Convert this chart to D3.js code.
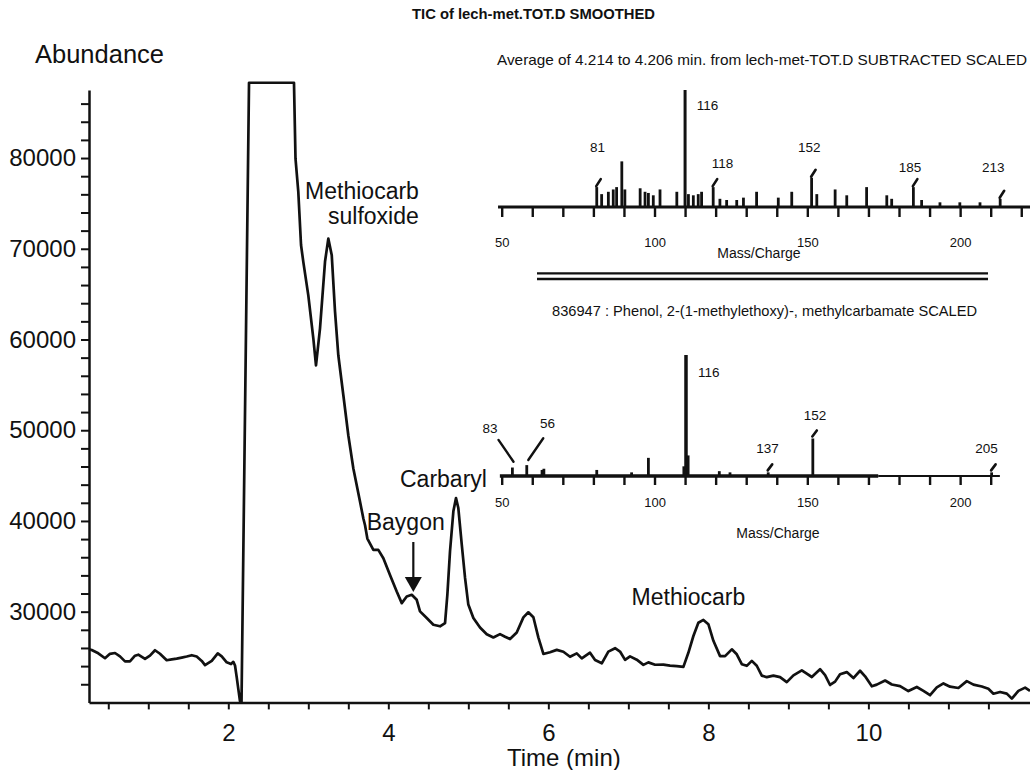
<!DOCTYPE html>
<html><head><meta charset="utf-8">
<script src="https://cdn.jsdelivr.net/npm/d3@7"></script>
<style>
body{margin:0;background:#fff;}
svg{display:block;font-family:"Liberation Sans",Arial,Helvetica,sans-serif;background:#fff;}
</style></head><body><svg id="c" width="1030" height="770"></svg>
<script>
// ---------- main chromatogram (TIC) ----------
const times = [0.26,0.293,0.375,0.459,0.521,0.584,0.646,0.709,0.771,0.834,
0.875,0.959,1.021,1.084,1.146,1.23,1.293,1.355,1.418,1.48,
1.543,1.605,1.668,1.709,1.793,1.868,1.918,1.98,2.034,2.063,
2.084,2.105,2.125,2.146,2.165,2.259,2.821,2.84,2.875,2.909,
2.938,3.0,3.063,3.096,3.146,3.209,3.25,3.293,3.334,3.375,
3.438,3.5,3.563,3.646,3.688,3.709,3.738,3.813,3.875,3.938,
4.021,4.105,4.168,4.23,4.293,4.355,4.396,4.48,4.563,4.646,
4.709,4.738,4.771,4.813,4.846,4.875,4.918,4.959,5.0,5.063,
5.146,5.23,5.313,5.396,5.459,5.521,5.605,5.688,5.75,5.813,
5.875,5.938,6.021,6.105,6.188,6.271,6.355,6.418,6.521,6.584,
6.668,6.75,6.834,6.896,6.959,7.021,7.105,7.188,7.25,7.334,
7.438,7.521,7.605,7.688,7.75,7.813,7.875,7.938,8.0,8.063,
8.146,8.209,8.293,8.355,8.418,8.48,8.543,8.605,8.668,8.73,
8.813,8.896,8.98,9.063,9.168,9.23,9.293,9.396,9.459,9.521,
9.584,9.646,9.73,9.813,9.896,9.959,10.043,10.105,10.209,10.293,
10.396,10.5,10.605,10.688,10.771,10.855,10.938,11.021,11.125,11.23,
11.313,11.418,11.5,11.563,11.646,11.73,11.793,11.875,11.959,12.02];
const abundance = [25850,25775,25410,24870,25355,25445,25070,24520,24530,25150,
25260,24790,25160,25750,25360,24650,24750,24830,24940,25060,
25200,25060,24570,24110,24580,25400,25080,24420,24230,24470,
24060,22780,21490,20150,20000,88300,88300,79930,76260,70410,
68530,64860,60090,57150,61200,68590,71120,69280,63080,58260,
53850,49450,45780,42140,40270,39530,38060,36810,36810,35890,
34050,32220,30940,31680,31860,31310,30030,29300,28560,28390,
28750,31870,36650,41060,42520,41420,37390,33720,30780,29310,
28250,27520,27160,27530,27240,26980,27710,29370,29930,29380,
27170,25340,25530,25790,25580,25030,25400,24850,25480,24670,
24310,25600,25970,25610,24690,25070,24710,24140,24410,24150,
24160,24060,23990,23920,25470,27320,28780,29090,28620,26790,
25100,25100,25850,25300,24210,24030,24580,24040,22950,22780,
22950,22780,22230,22980,23530,23160,22800,23660,23010,21920,
22290,23110,23340,22680,23490,22870,21770,21960,22410,21970,
21800,21250,21700,21270,20790,21650,22090,21730,21590,22340,
21960,21750,21500,20960,21150,20970,20420,21270,21630,21270];
const yTickLabels = [30000,40000,50000,60000,70000,80000];
const yMinorTicks = [22000,24000,26000,28000,30000,32000,34000,36000,38000,40000,42000,44000,46000,48000,50000,52000,54000,56000,58000,60000,62000,64000,66000,68000,70000,72000,74000,76000,78000,80000,82000,84000,86000];
const xTickLabels = [2,4,6,8,10];
const xMinorTicks = [0.5,1,1.5,2,2.5,3,3.5,4,4.5,5,5.5,6,6.5,7,7.5,8,8.5,9,9.5,10,10.5,11,11.5];

// peak annotations (text, time, abundance of text baseline)
const annoText = ["Methiocarb","sulfoxide","Carbaryl","Baygon","Methiocarb"];
const annoTime = [2.96,3.246,4.146,3.73,7.04];
const annoAbund = [75475,72720,43740,39000,30730];
const arrowTime = 4.3125, arrowFrom = 37680, arrowTo = 32170;

// ---------- spectrum 1 ----------
const spec1Mz = [81.1,82.7,84.9,86.5,87.6,89.3,90.3,95.3,96.9,98,99.6,101.8,107.3,110,111.1,112.7,114.3,115.4,119.2,121.4,123.6,126.9,129.1,133.4,140.5,144.9,151.4,153.1,159.1,162.9,169.4,176,177.6,184.7,187.4,193.4,199.9,206.5,213.1];
const spec1Int = [17,11,13,15,17,39,15,16,13,12,10,15,13,100,11,10,11,13,17,7,6,6,8,13,8,13,25,11,15,10,17,10,7,17,6,4,4,4,7];
const spec1LabelText = ["81","116","118","152","185","213"];
const spec1LabelPeakMz = [81.1,110,119.2,151.4,184.7,213.1];
const spec1LabelMz = [81.35,113.8,118.7,150.6,183.6,210.8];
const spec1LabelInt = [47,82.9,33.3,47,30,30];
const spec1LabelAnchor = ["middle","start","start","middle","middle","middle"];

// ---------- spectrum 2 ----------
const spec2Mz = [53.5,58.2,63.2,63.8,81.1,92.5,98,109.6,110.3,111.0,121.2,124.7,137.2,151.8,210.3];
const spec2Int = [7,9,5,6,5,3,15,8,100,17,4,3,3,31,3];
const spec2LabelText = ["83","56","116","137","152","205"];
const spec2LabelMz = [46.2,65,114.2,137,152.5,208.6];
const spec2LabelInt = [35.5,39.7,82,18.8,46.3,18.8];
const spec2LabelAnchor = ["middle","middle","start","middle","middle","middle"];
const spec2SlashPeakMz = [137.2,151.8,210.3];
const spec2LeaderFromMz = [48.95,63.6], spec2LeaderFromInt=[29.8,31.2];
const spec2LeaderToMz = [53.86,58.7], spec2LeaderToInt=[11.8,13.2];

const massTicks1 = [50,60,70,80,90,100,110,120,130,140,150,160,170,180,190,200,210,220];
const massTicks2 = [50,60,70,80,90,100,110,120,130,140,150,160,170,180,190,200,210];
const massLabels = [50,100,150,200];

const svg = d3.select("#c");
const ink = "#111";

// ---------- main scales ----------
const x = d3.scaleLinear().domain([0.259, 12.02]).range([89, 1030]);
const y = d3.scaleLinear().domain([20000, 87500]).range([702.4, 90]);

// title
svg.append("text").attr("x",412).attr("y",19).attr("font-size",14.5).attr("font-weight","bold")
  .attr("textLength",243).attr("lengthAdjust","spacingAndGlyphs")
  .attr("fill",ink).text("TIC of lech-met.TOT.D SMOOTHED");

svg.append("text").attr("x",35).attr("y",63).attr("font-size",25.5).attr("fill",ink).text("Abundance");

// y axis
const yAxis = d3.axisLeft(y).tickValues(yMinorTicks).tickSize(8).tickSizeOuter(0).tickPadding(5)
  .tickFormat(d => yTickLabels.includes(d) ? d : "");
const gy = svg.append("g").attr("transform","translate(89,0)").call(yAxis);
gy.select(".domain").attr("stroke",ink).attr("stroke-width",2.5);
gy.selectAll(".tick line").attr("stroke",ink).attr("stroke-width",2);
gy.selectAll(".tick text").attr("font-size",24).attr("fill",ink).attr("font-family",null);

// x axis
const xAxis = d3.axisBottom(x).tickValues(xMinorTicks).tickSize(7).tickSizeOuter(0).tickPadding(15)
  .tickFormat(d => xTickLabels.includes(d) ? d : "");
const gx = svg.append("g").attr("transform","translate(0,702.4)").call(xAxis);
gx.select(".domain").attr("stroke",ink).attr("stroke-width",2.5);
gx.selectAll(".tick line").attr("stroke",ink).attr("stroke-width",2);
gx.selectAll(".tick text").attr("font-size",24).attr("fill",ink).attr("font-family",null);
svg.append("text").attr("x",507).attr("y",766).attr("font-size",24).attr("fill",ink).text("Time (min)");

// curve
const pts = times.map((t,i)=>[t, abundance[i]]);
svg.append("path").datum(pts)
  .attr("d", d3.line().x(d=>x(d[0])).y(d=>y(d[1])))
  .attr("fill","none").attr("stroke",ink).attr("stroke-width",2.7)
  .attr("stroke-linejoin","round");

// annotations
svg.selectAll("text.anno").data(annoText).join("text").attr("class","anno")
  .attr("x",(d,i)=>x(annoTime[i])).attr("y",(d,i)=>y(annoAbund[i]))
  .attr("font-size",23).attr("fill",ink).text(d=>d);
const ax = x(arrowTime);
svg.append("line").attr("x1",ax).attr("x2",ax).attr("y1",y(arrowFrom)).attr("y2",y(arrowTo)-12)
  .attr("stroke",ink).attr("stroke-width",2.2);
svg.append("path").attr("d",`M${ax-8.5},${y(arrowTo)-15}L${ax+8.5},${y(arrowTo)-15}L${ax},${y(arrowTo)}Z`).attr("fill",ink);

// ---------- mass spectra ----------
const mx = d3.scaleLinear().domain([50,210]).range([501.7,990.7]);
const s1y = d3.scaleLinear().domain([0,100]).range([207,90]);
const s2y = d3.scaleLinear().domain([0,100]).range([476,355]);

function drawAxis(yScale, ticks, tickLen, pad){
  const a = d3.axisBottom(mx).tickValues(ticks).tickSize(tickLen).tickSizeOuter(0).tickPadding(pad)
    .tickFormat(d => massLabels.includes(d) ? d : "");
  const g = svg.append("g").attr("transform",`translate(0,${yScale(0)})`).call(a);
  g.select(".domain").remove();
  g.selectAll(".tick line").attr("stroke",ink).attr("stroke-width",2.4);
  g.selectAll(".tick text").attr("font-size",13).attr("fill",ink).attr("font-family",null);
  return g;
}

// spectrum 1
svg.append("text").attr("x",497).attr("y",65).attr("font-size",15).attr("fill",ink)
  .attr("textLength",530).attr("lengthAdjust","spacingAndGlyphs")
  .text("Average of 4.214 to 4.206 min. from lech-met-TOT.D SUBTRACTED SCALED");
drawAxis(s1y, massTicks1, 10, 21);
svg.append("line").attr("x1",mx(48.8)).attr("x2",1030).attr("y1",s1y(0)).attr("y2",s1y(0))
  .attr("stroke",ink).attr("stroke-width",3.2);
svg.selectAll("line.p1").data(spec1Mz).join("line").attr("class","p1")
  .attr("x1",d=>mx(d)).attr("x2",d=>mx(d)).attr("y1",s1y(0)).attr("y2",(d,i)=>s1y(spec1Int[i]))
  .attr("stroke",ink).attr("stroke-width",(d,i)=>spec1Int[i]>50?3:2.8);
svg.selectAll("line.s1").data(spec1LabelPeakMz.filter(m=>m!==110)).join("line").attr("class","s1")
  .attr("x1",d=>mx(d)-0.5).attr("x2",d=>mx(d)+4)
  .attr("y1",d=>s1y(spec1Int[spec1Mz.indexOf(d)])-1).attr("y2",d=>s1y(spec1Int[spec1Mz.indexOf(d)])-8)
  .attr("stroke",ink).attr("stroke-width",2.6).attr("stroke-linecap","round");
svg.selectAll("text.l1").data(spec1LabelText).join("text").attr("class","l1")
  .attr("x",(d,i)=>mx(spec1LabelMz[i])).attr("y",(d,i)=>s1y(spec1LabelInt[i]))
  .attr("text-anchor",(d,i)=>spec1LabelAnchor[i]).attr("font-size",13.5).attr("fill",ink).text(d=>d);
svg.append("text").attr("x",759).attr("y",258).attr("text-anchor","middle").attr("font-size",14).attr("fill",ink).text("Mass/Charge");

// separator double line
svg.append("line").attr("x1",537).attr("x2",988).attr("y1",273.3).attr("y2",273.3).attr("stroke",ink).attr("stroke-width",2.3);
svg.append("line").attr("x1",537).attr("x2",988).attr("y1",279).attr("y2",279).attr("stroke",ink).attr("stroke-width",2.3);

// spectrum 2
svg.append("text").attr("x",552).attr("y",316).attr("font-size",14.5).attr("fill",ink)
  .attr("textLength",425).attr("lengthAdjust","spacingAndGlyphs")
  .text("836947 : Phenol, 2-(1-methylethoxy)-, methylcarbamate SCALED");
drawAxis(s2y, massTicks2, 9, 13);
svg.append("line").attr("x1",mx(49.4)).attr("x2",mx(173.2)).attr("y1",s2y(0)).attr("y2",s2y(0))
  .attr("stroke",ink).attr("stroke-width",3.4);
svg.append("line").attr("x1",mx(173.2)).attr("x2",mx(213)).attr("y1",s2y(0)).attr("y2",s2y(0))
  .attr("stroke",ink).attr("stroke-width",2);
svg.selectAll("line.p2").data(spec2Mz).join("line").attr("class","p2")
  .attr("x1",d=>mx(d)).attr("x2",d=>mx(d)).attr("y1",s2y(0)).attr("y2",(d,i)=>s2y(spec2Int[i]))
  .attr("stroke",ink).attr("stroke-width",(d,i)=>spec2Int[i]>50?3.5:2.8);
svg.selectAll("line.s2").data(spec2SlashPeakMz).join("line").attr("class","s2")
  .attr("x1",d=>mx(d)-0.5).attr("x2",d=>mx(d)+4)
  .attr("y1",d=>s2y(spec2Int[spec2Mz.indexOf(d)])-2).attr("y2",d=>s2y(spec2Int[spec2Mz.indexOf(d)])-8)
  .attr("stroke",ink).attr("stroke-width",2.6).attr("stroke-linecap","round");
svg.selectAll("line.ld").data(spec2LeaderFromMz).join("line").attr("class","ld")
  .attr("x1",d=>mx(d)).attr("y1",(d,i)=>s2y(spec2LeaderFromInt[i]))
  .attr("x2",(d,i)=>mx(spec2LeaderToMz[i])).attr("y2",(d,i)=>s2y(spec2LeaderToInt[i]))
  .attr("stroke",ink).attr("stroke-width",2.4).attr("stroke-linecap","round");
svg.selectAll("text.l2").data(spec2LabelText).join("text").attr("class","l2")
  .attr("x",(d,i)=>mx(spec2LabelMz[i])).attr("y",(d,i)=>s2y(spec2LabelInt[i]))
  .attr("text-anchor",(d,i)=>spec2LabelAnchor[i]).attr("font-size",13.5).attr("fill",ink).text(d=>d);
svg.append("text").attr("x",778).attr("y",538).attr("text-anchor","middle").attr("font-size",14).attr("fill",ink).text("Mass/Charge");
</script></body></html>
